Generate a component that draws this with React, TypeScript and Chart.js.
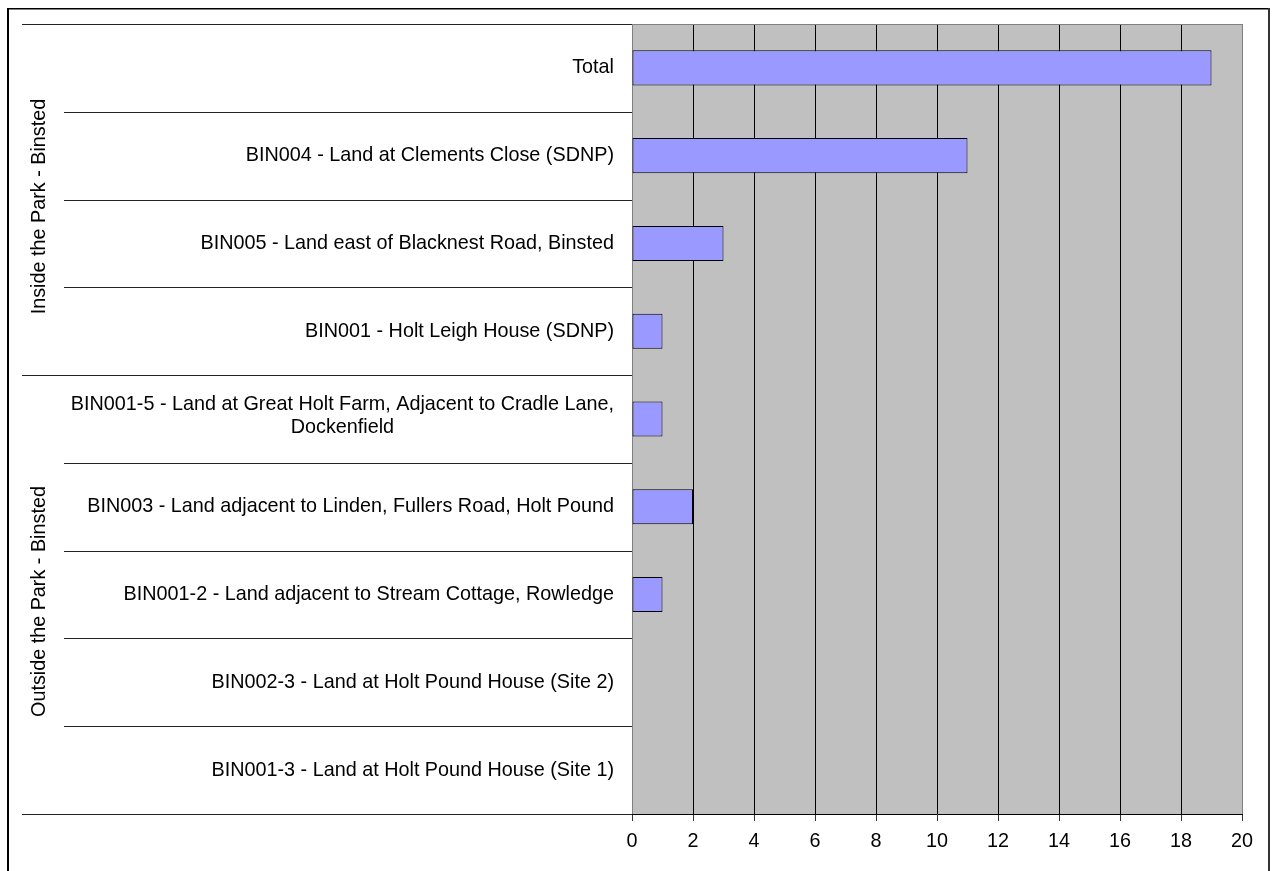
import React, { useEffect, useRef } from "react";
import { Chart, registerables } from "chart.js";

Chart.register(...registerables);

// Sites, top to bottom; a string[] entry wraps onto several lines
const categories: (string | string[])[] = [
  "Total",
  "BIN004 - Land at Clements Close (SDNP)",
  "BIN005 - Land east of Blacknest Road, Binsted",
  "BIN001 - Holt Leigh House (SDNP)",
  ["BIN001-5 - Land at Great Holt Farm, Adjacent to Cradle Lane,", "Dockenfield"],
  "BIN003 - Land adjacent to Linden, Fullers Road, Holt Pound",
  "BIN001-2 - Land adjacent to Stream Cottage, Rowledge",
  "BIN002-3 - Land at Holt Pound House (Site 2)",
  "BIN001-3 - Land at Holt Pound House (Site 1)",
];
const values = [19, 11, 3, 1, 1, 2, 1, 0, 0];

// Outer category groups and how many sites each one spans
const groupNames = ["Inside the Park - Binsted", "Outside the Park - Binsted"];
const groupSizes = [4, 5];

// Value axis
const axisMin = 0;
const axisMax = 20;
const axisStep = 2;

const W = 1275;
const H = 871;
const FONT = "Arial, 'Liberation Sans', sans-serif";
const FONT_SIZE = 19.8;

const decorPlugin = {
  id: "decor",
  beforeDraw(chart: any) {
    const { ctx, chartArea: a } = chart;
    ctx.save();
    ctx.fillStyle = "#ffffff";
    ctx.fillRect(0, 0, chart.width, chart.height);
    ctx.fillStyle = "#C0C0C0";
    ctx.fillRect(a.left, a.top, a.right - a.left, a.bottom - a.top);
    ctx.restore();
  },
  afterDraw(chart: any) {
    const { ctx, chartArea: a } = chart;
    const y = chart.scales.y;
    const edge = (k: number) => Math.round(y.getPixelForValue(k - 0.5)) + 0.5;

    ctx.save();

    // outer frame
    ctx.fillStyle = "#000";
    ctx.fillRect(7, 8, 2, H);
    ctx.fillRect(7, 8, 1263, 1.5);
    ctx.fillStyle = "#333";
    ctx.fillRect(1268, 8, 2, H);

    // plot area top and right borders
    ctx.strokeStyle = "#808080";
    ctx.lineWidth = 1;
    ctx.beginPath();
    ctx.moveTo(a.left, Math.round(a.top) + 0.5);
    ctx.lineTo(Math.round(a.right) + 0.5, Math.round(a.top) + 0.5);
    ctx.lineTo(Math.round(a.right) + 0.5, Math.round(a.bottom));
    ctx.stroke();

    // separators between categories (short) and between groups (long)
    const groupEdges = new Set<number>();
    let acc = 0;
    groupEdges.add(0);
    groupSizes.forEach((s) => {
      acc += s;
      groupEdges.add(acc);
    });
    ctx.strokeStyle = "#222";
    for (let k = 0; k <= categories.length; k++) {
      const yy = edge(k);
      const x0 = groupEdges.has(k) ? 22 : 64;
      ctx.beginPath();
      ctx.moveTo(x0, yy);
      ctx.lineTo(a.left, yy);
      ctx.stroke();
    }

    // category labels
    ctx.fillStyle = "#000";
    ctx.font = `${FONT_SIZE}px ${FONT}`;
    ctx.textBaseline = "middle";
    ctx.textAlign = "center";
    const right = 614;
    const minLeft = 66;
    const lh = 23;
    categories.forEach((c, i) => {
      const lines = Array.isArray(c) ? c : [c];
      const maxW = Math.max(...lines.map((l) => ctx.measureText(l).width));
      const left = Math.max(minLeft, right - maxW);
      const cx = left + maxW / 2;
      const cy = y.getPixelForValue(i) - (lines.length > 1 ? 3 : 0);
      const y0 = cy - ((lines.length - 1) * lh) / 2;
      lines.forEach((l, j) => ctx.fillText(l, cx, y0 + j * lh));
    });

    // group labels, rotated
    let start = 0;
    groupNames.forEach((g, gi) => {
      const end = start + groupSizes[gi];
      const mid = (y.getPixelForValue(start - 0.5) + y.getPixelForValue(end - 0.5)) / 2 + 7;
      ctx.save();
      ctx.translate(40, mid);
      ctx.rotate(-Math.PI / 2);
      ctx.textAlign = "center";
      ctx.textBaseline = "middle";
      ctx.fillText(g, 0, 0);
      ctx.restore();
      start = end;
    });

    ctx.restore();
  },
};

export default function App() {
  const ref = useRef<HTMLCanvasElement>(null);

  useEffect(() => {
    if (!ref.current) return;
    const chart = new Chart(ref.current, {
      type: "bar",
      data: {
        labels: categories.map((c) => (Array.isArray(c) ? c.join(" ") : c)),
        datasets: [
          {
            data: values,
            backgroundColor: "#9999FF",
            borderColor: "#000000",
            borderWidth: (ctx: any) => (ctx.raw === 0 ? 0 : 1),
            borderSkipped: false,
            barPercentage: 0.4,
            categoryPercentage: 1,
          },
        ],
      },
      options: {
        indexAxis: "y",
        responsive: false,
        animation: false,
        layout: { padding: { left: 632, right: 33, top: 24, bottom: 0 } },
        plugins: {
          legend: { display: false },
          tooltip: { enabled: false },
          title: { display: false },
        },
        scales: {
          y: { display: false },
          x: {
            min: axisMin,
            max: axisMax,
            afterFit: (scale: any) => {
              scale.height = 57;
            },
            ticks: {
              stepSize: axisStep,
              color: "#000",
              font: { family: FONT, size: FONT_SIZE },
              padding: 9,
              maxRotation: 0,
            },
            grid: {
              color: (ctx: any) =>
                ctx.tick && (ctx.tick.value === axisMin || ctx.tick.value === axisMax) ? "#808080" : "#000000",
              lineWidth: 1,
              drawTicks: true,
              tickLength: 7,
              tickColor: "#333",
            },
            border: { display: true, color: "#000", width: 1 },
          },
        },
      } as any,
      plugins: [decorPlugin],
    });
    return () => chart.destroy();
  }, []);

  return (
    <div style={{ position: "fixed", left: 0, top: 0, width: W, height: H, background: "#fff" }}>
      <canvas ref={ref} width={W} height={H} style={{ display: "block" }} />
    </div>
  );
}
